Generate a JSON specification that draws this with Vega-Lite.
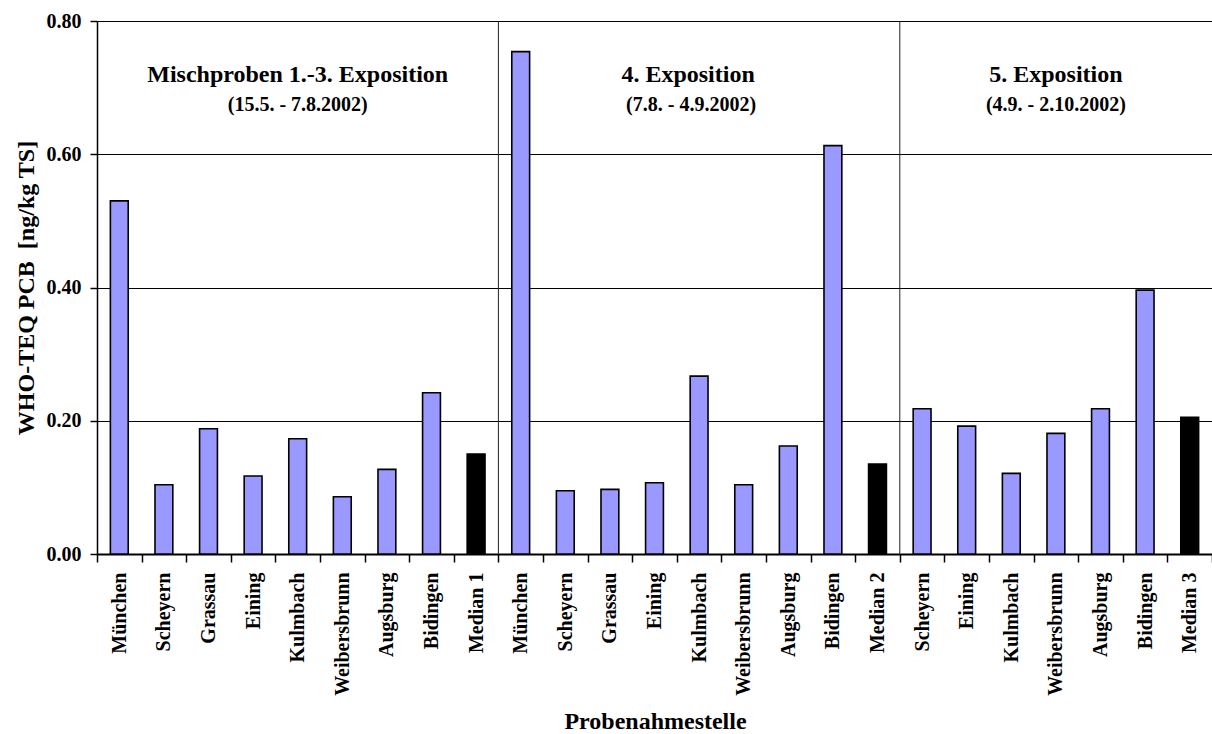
{
  "$schema": "https://vega.github.io/schema/vega-lite/v6.json",
  "autosize": {"type": "none"},
  "padding": {"left": 97, "top": 21, "right": 0, "bottom": 180},
  "width": 1115,
  "height": 533,
  "background": "white",
  "config": {
    "font": "Liberation Serif",
    "view": {"stroke": null},
    "axis": {"labelFont": "Liberation Serif", "titleFont": "Liberation Serif", "labelFontWeight": "bold", "titleFontWeight": "bold", "labelColor": "black", "titleColor": "black"}
  },
  "datasets": {
    "werte": [
      {"key": "1|München", "gruppe": "1", "typ": "Messstelle", "wert": 0.530},
      {"key": "1|Scheyern", "gruppe": "1", "typ": "Messstelle", "wert": 0.104},
      {"key": "1|Grassau", "gruppe": "1", "typ": "Messstelle", "wert": 0.188},
      {"key": "1|Eining", "gruppe": "1", "typ": "Messstelle", "wert": 0.117},
      {"key": "1|Kulmbach", "gruppe": "1", "typ": "Messstelle", "wert": 0.173},
      {"key": "1|Weibersbrunn", "gruppe": "1", "typ": "Messstelle", "wert": 0.086},
      {"key": "1|Augsburg", "gruppe": "1", "typ": "Messstelle", "wert": 0.127},
      {"key": "1|Bidingen", "gruppe": "1", "typ": "Messstelle", "wert": 0.242},
      {"key": "1|Median 1", "gruppe": "1", "typ": "Median", "wert": 0.150},
      {"key": "2|München", "gruppe": "2", "typ": "Messstelle", "wert": 0.754},
      {"key": "2|Scheyern", "gruppe": "2", "typ": "Messstelle", "wert": 0.095},
      {"key": "2|Grassau", "gruppe": "2", "typ": "Messstelle", "wert": 0.097},
      {"key": "2|Eining", "gruppe": "2", "typ": "Messstelle", "wert": 0.107},
      {"key": "2|Kulmbach", "gruppe": "2", "typ": "Messstelle", "wert": 0.267},
      {"key": "2|Weibersbrunn", "gruppe": "2", "typ": "Messstelle", "wert": 0.104},
      {"key": "2|Augsburg", "gruppe": "2", "typ": "Messstelle", "wert": 0.162},
      {"key": "2|Bidingen", "gruppe": "2", "typ": "Messstelle", "wert": 0.613},
      {"key": "2|Median 2", "gruppe": "2", "typ": "Median", "wert": 0.135},
      {"key": "3|Scheyern", "gruppe": "3", "typ": "Messstelle", "wert": 0.218},
      {"key": "3|Eining", "gruppe": "3", "typ": "Messstelle", "wert": 0.192},
      {"key": "3|Kulmbach", "gruppe": "3", "typ": "Messstelle", "wert": 0.121},
      {"key": "3|Weibersbrunn", "gruppe": "3", "typ": "Messstelle", "wert": 0.181},
      {"key": "3|Augsburg", "gruppe": "3", "typ": "Messstelle", "wert": 0.218},
      {"key": "3|Bidingen", "gruppe": "3", "typ": "Messstelle", "wert": 0.396},
      {"key": "3|Median 3", "gruppe": "3", "typ": "Median", "wert": 0.205}
    ],
    "trenner": [
      {"key": "2|München"},
      {"key": "3|Scheyern"}
    ],
    "beschriftung": [
      {"gruppe": "1", "anker": "1|Kulmbach", "titel": "Mischproben 1.-3. Exposition", "zeitraum": "(15.5. - 7.8.2002)"},
      {"gruppe": "2", "anker": "2|Kulmbach", "titel": "4. Exposition", "zeitraum": "(7.8. - 4.9.2002)"},
      {"gruppe": "3", "anker": "3|Weibersbrunn", "titel": "5. Exposition", "zeitraum": "(4.9. - 2.10.2002)"}
    ]
  },
  "layer": [
    {
      "data": {"name": "werte"},
      "mark": {"type": "bar", "width": {"band": 0.4}, "stroke": "black", "strokeWidth": 1.6},
      "encoding": {
        "x": {
          "field": "key", "type": "nominal",
          "scale": {"paddingInner": 0, "paddingOuter": 0, "domain": ["1|München", "1|Scheyern", "1|Grassau", "1|Eining", "1|Kulmbach", "1|Weibersbrunn", "1|Augsburg", "1|Bidingen", "1|Median 1", "2|München", "2|Scheyern", "2|Grassau", "2|Eining", "2|Kulmbach", "2|Weibersbrunn", "2|Augsburg", "2|Bidingen", "2|Median 2", "3|Scheyern", "3|Eining", "3|Kulmbach", "3|Weibersbrunn", "3|Augsburg", "3|Bidingen", "3|Median 3"]},
          "sort": null,
          "axis": {
            "title": "Probenahmestelle",
            "titleFontSize": 24,
            "titleX": 558,
            "titleY": 174,
            "titleAlign": "center",
            "titleBaseline": "alphabetic",
            "labelExpr": "split(datum.value, '|')[1]",
            "labelAngle": 270,
            "labelAlign": "right",
            "labelBaseline": "middle",
            "labelFontSize": 20,
            "labelPadding": 10,
            "labelOverlap": false,
            "tickBand": "extent",
            "tickSize": 8,
            "tickColor": "black",
            "tickWidth": 1.5,
            "domainColor": "black",
            "domainWidth": 2,
            "grid": false
          }
        },
        "y": {
          "field": "wert", "type": "quantitative",
          "scale": {"domain": [0, 0.8], "nice": false},
          "axis": {
            "title": "WHO-TEQ PCB\u00a0 [ng/kg TS]",
            "titleFontSize": 24,
            "titleAngle": -90,
            "titleX": -64,
            "titleY": 266.5,
            "titleAlign": "center",
            "titleBaseline": "alphabetic",
            "values": [0, 0.2, 0.4, 0.6, 0.8],
            "format": ".2f",
            "labelFontSize": 20,
            "labelPadding": 9,
            "tickSize": 7,
            "tickColor": "black",
            "tickWidth": 1.5,
            "domainColor": "black",
            "domainWidth": 1.5,
            "grid": true,
            "gridColor": "black",
            "gridWidth": 1,
            "gridOpacity": 1
          }
        },
        "color": {
          "field": "typ", "type": "nominal",
          "scale": {"domain": ["Messstelle", "Median"], "range": ["#9999ff", "#000000"]},
          "legend": null
        }
      }
    },
    {
      "data": {"name": "trenner"},
      "mark": {"type": "rule", "color": "#222222", "strokeWidth": 1},
      "encoding": {
        "x": {"field": "key", "type": "nominal", "bandPosition": 0}
      }
    },
    {
      "data": {"name": "beschriftung"},
      "transform": [{"filter": "datum.gruppe != '2'"}],
      "mark": {"type": "text", "fontSize": 24, "fontWeight": "bold", "font": "Liberation Serif", "align": "center", "baseline": "alphabetic", "color": "black"},
      "encoding": {
        "x": {"field": "anker", "type": "nominal", "bandPosition": 0.5},
        "y": {"datum": 0.709, "type": "quantitative"},
        "text": {"field": "titel"}
      }
    },
    {
      "data": {"name": "beschriftung"},
      "transform": [{"filter": "datum.gruppe != '2'"}],
      "mark": {"type": "text", "fontSize": 20, "fontWeight": "bold", "font": "Liberation Serif", "align": "center", "baseline": "alphabetic", "color": "black"},
      "encoding": {
        "x": {"field": "anker", "type": "nominal", "bandPosition": 0.5},
        "y": {"datum": 0.665, "type": "quantitative"},
        "text": {"field": "zeitraum"}
      }
    },
    {
      "data": {"name": "beschriftung"},
      "transform": [{"filter": "datum.gruppe == '2'"}],
      "mark": {"type": "text", "fontSize": 24, "fontWeight": "bold", "font": "Liberation Serif", "align": "center", "baseline": "alphabetic", "color": "black", "dx": -11},
      "encoding": {
        "x": {"field": "anker", "type": "nominal", "bandPosition": 0.5},
        "y": {"datum": 0.709, "type": "quantitative"},
        "text": {"field": "titel"}
      }
    },
    {
      "data": {"name": "beschriftung"},
      "transform": [{"filter": "datum.gruppe == '2'"}],
      "mark": {"type": "text", "fontSize": 20, "fontWeight": "bold", "font": "Liberation Serif", "align": "center", "baseline": "alphabetic", "color": "black", "dx": -8},
      "encoding": {
        "x": {"field": "anker", "type": "nominal", "bandPosition": 0.5},
        "y": {"datum": 0.665, "type": "quantitative"},
        "text": {"field": "zeitraum"}
      }
    }
  ]
}
